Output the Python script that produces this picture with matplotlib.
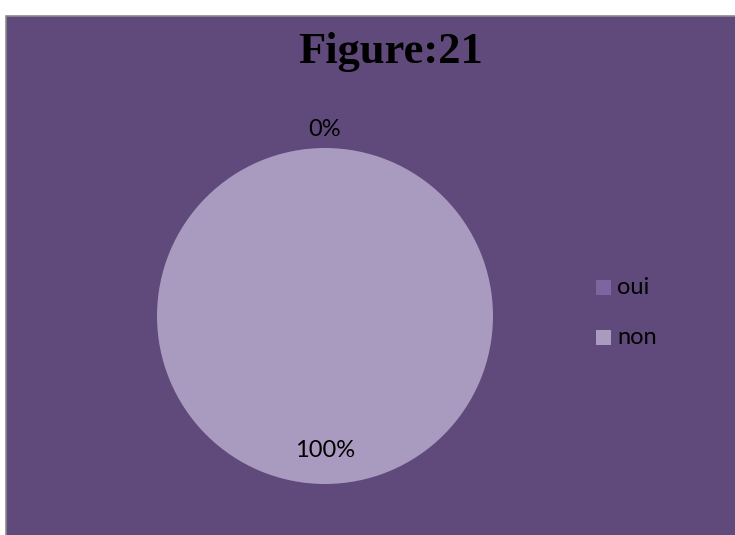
import matplotlib
matplotlib.use("Agg")
import matplotlib.pyplot as plt
from matplotlib.patches import Rectangle
import numpy as np

categories = ["oui", "non"]
values = [0, 100]
colors = ["#7D66A0", "#A99BC0"]
title = "Figure:21"

W, H = 735, 535
fig = plt.figure(figsize=(W / 100, H / 100), dpi=100, facecolor="white")

# chart area background
bgax = fig.add_axes([0, 0, 1, 1])
bgax.set_xlim(0, W)
bgax.set_ylim(H, 0)
bgax.axis("off")
bgax.set_zorder(0)
bgax.add_patch(Rectangle((6.5, 15.5), W + 10, H, facecolor="#604A7B",
                         edgecolor="#8C8C8C", linewidth=1.2))

cx, cy, r = 325, 316, 168
ax = fig.add_axes([(cx - r) / W, (H - cy - r) / H, 2 * r / W, 2 * r / H])
ax.set_zorder(1)
ax.patch.set_alpha(0)

wedges, _ = ax.pie(values, colors=colors, startangle=90, counterclock=False,
                   radius=1, wedgeprops=dict(linewidth=0))
ax.set_xlim(-1, 1)
ax.set_ylim(-1, 1)
ax.set_aspect("auto")
ax.axis("off")

total = sum(values)
start = 90.0
for v in values:
    sweep = 360.0 * v / total
    mid = np.deg2rad(start - sweep / 2)
    pct = 100.0 * v / total
    rr = 1.11 if v == 0 else 0.80
    ax.text(rr * np.cos(mid), rr * np.sin(mid), f"{pct:.0f}%",
            ha="center", va="center", fontsize=17, family="Lato",
            color="black", clip_on=False)
    start -= sweep

# title and legend on the background axes (pixel coordinates)
bgax.text(391, 52, title, ha="center", va="center",
          fontsize=32, fontweight="bold", family="Liberation Serif", color="black")

for i, (cat, col) in enumerate(zip(categories, colors)):
    y = 287 + 50 * i
    bgax.add_patch(Rectangle((596, y - 7.5), 15, 15, facecolor=col, edgecolor="none"))
    bgax.text(617, y, cat, ha="left", va="center", fontsize=17,
              family="Lato", color="black")

fig.savefig("out.png", dpi=100, facecolor="white")
